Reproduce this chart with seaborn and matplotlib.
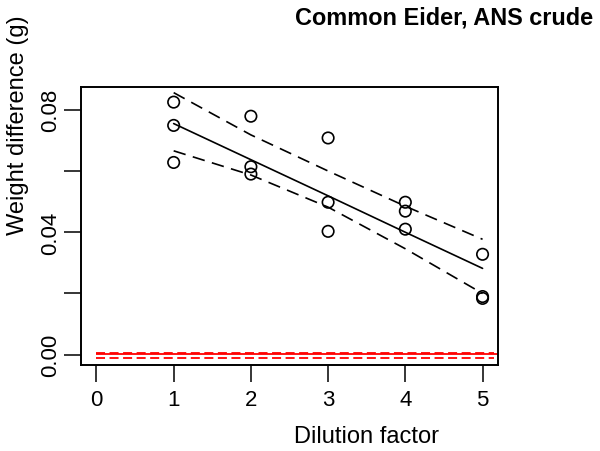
import numpy as np
import pandas as pd
import seaborn as sns
from matplotlib import pyplot as plt

# data
dilution = [1, 1, 1, 2, 2, 2, 3, 3, 3, 4, 4, 4, 5, 5, 5]
weight_diff = [0.0825, 0.0749, 0.0628,
               0.0779, 0.0614, 0.0590,
               0.0708, 0.0498, 0.0403,
               0.0498, 0.0469, 0.0410,
               0.0328, 0.0190, 0.0184]

fit_x = [1, 2, 3, 4, 5]
fit_vals = [0.0755, 0.0637, 0.0519, 0.0400, 0.0282]
band_upper = [0.0856, 0.0718, 0.0600, 0.0485, 0.0377]
band_lower = [0.0666, 0.0587, 0.0482, 0.0346, 0.0200]

control_mean = 0.0002
control_upper = 0.0007
control_lower = -0.0010

x_ticks = [0, 1, 2, 3, 4, 5]
y_ticks = [0.00, 0.02, 0.04, 0.06, 0.08]
y_tick_labels = ["0.00", "", "0.04", "", "0.08"]

sns.set_style("white")
plt.rcParams['font.family'] = ['Liberation Sans', 'DejaVu Sans']
plt.rcParams['text.color'] = 'black'
plt.rcParams['xtick.color'] = 'black'
plt.rcParams['ytick.color'] = 'black'

df = pd.DataFrame({"dilution": dilution, "weight": weight_diff})
fit_df = pd.DataFrame({"x": fit_x, "fit": fit_vals, "upper": band_upper, "lower": band_lower})

fig = plt.figure(figsize=(6, 4.52), dpi=100)
ax = fig.add_axes([0.135, 0.19, 0.695, 0.615])

sns.scatterplot(data=df, x="dilution", y="weight", ax=ax, marker="o", s=68,
                facecolor="none", edgecolor="black", linewidth=1.2, zorder=3)
sns.lineplot(data=fit_df, x="x", y="fit", ax=ax, color="black", lw=1.2)
for col in ["upper", "lower"]:
    sns.lineplot(data=fit_df, x="x", y=col, ax=ax, color="black", lw=1.2,
                 dashes=False, linestyle=(0, (7.5, 4.5)))

ax.hlines(control_mean, 0, 5.2, color="red", lw=1.3, zorder=2)
ax.hlines([control_upper, control_lower], 0, 5.15, color="red", lw=1.3,
          linestyles=[(0, (5, 2.5))], zorder=2)

ax.set_xlim(-0.2, 5.2)
ax.set_ylim(-0.0034, 0.0874)
ax.set_xticks(x_ticks)
ax.set_yticks(y_ticks)
ax.set_yticklabels(y_tick_labels, rotation=90, va="center")
ax.tick_params(axis="both", direction="out", length=12.5, width=1.1,
               labelsize=16, labelcolor="black", color="black", left=True, bottom=True)
ax.tick_params(axis="y", pad=2)
ax.tick_params(axis="x", pad=5)
for s in ax.spines.values():
    s.set_color("black")
    s.set_linewidth(1.4)
ax.set_xlabel("")
ax.set_ylabel("")

fig.text(367 / 600, 1 - 437 / 452, "Dilution factor", fontsize=17, ha="center", va="center")
fig.text(18 / 600, 1 - 125 / 452, "Weight difference (g)", fontsize=17, rotation=90,
         ha="center", va="center")
fig.text(593 / 600, 1 - 18 / 452, "Common Eider, ANS crude", fontsize=16.9,
         fontweight="bold", ha="right", va="center")

plt.savefig("out.png", dpi=100)
